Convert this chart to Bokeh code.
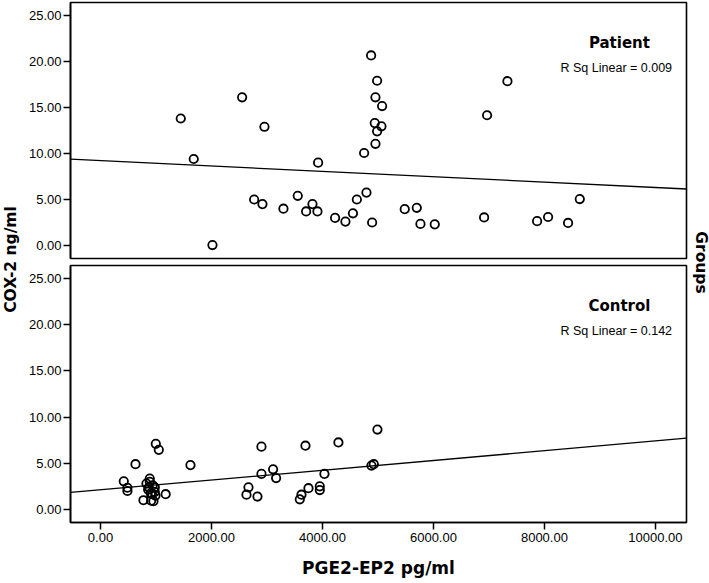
import numpy as np
from bokeh.plotting import figure
from bokeh.layouts import row, column
from bokeh.models import Range1d, FixedTicker, PrintfTickFormatter, Label
from bokeh.embed import file_html
from bokeh.resources import INLINE

# ---- data ----
patient_x = [1447, 1681, 2553, 2018, 2955, 2769, 2919, 3297, 3555, 3706, 3820, 3910, 3922,
             4228, 4414, 4550, 4620, 4751, 4793, 4877, 4895, 4985, 4955, 5075, 4943, 5063,
             4985, 4955, 5483, 5700, 5766, 6024, 6913, 6967, 7333, 7868, 8066, 8426, 8637]
patient_y = [13.8, 9.4, 16.1, 0.05, 12.9, 5.0, 4.5, 4.0, 5.4, 3.7, 4.5, 3.7, 9.0,
             3.0, 2.6, 3.5, 5.0, 10.05, 5.75, 20.65, 2.5, 17.9, 16.1, 15.15, 13.3, 12.95,
             12.4, 11.05, 3.95, 4.1, 2.35, 2.3, 3.05, 14.15, 17.85, 2.65, 3.1, 2.45, 5.05]
control_x = [420, 486, 486, 631, 775, 829, 871, 859, 888, 888, 907, 913, 931, 942, 955,
             979, 979, 991, 997, 1051, 1175, 1622, 2631, 2667, 2829, 2901, 2901, 3111, 3165,
             3592, 3622, 3694, 3748, 3952, 3952, 4036, 4288, 4883, 4925, 4991]
control_y = [3.05, 2.35, 2.0, 4.9, 1.0, 2.8, 2.4, 2.15, 3.35, 3.0, 1.75, 0.95, 1.65, 2.6, 0.9,
             2.4, 1.9, 1.5, 7.1, 6.45, 1.65, 4.8, 1.6, 2.4, 1.4, 6.8, 3.85, 4.35, 3.4,
             1.1, 1.6, 6.9, 2.3, 2.5, 2.1, 3.85, 7.25, 4.75, 4.9, 8.65]
group_names = ["Patient", "Control"]
r_sq_values = ["0.009", "0.142"]
y_ticks = [0, 5, 10, 15, 20, 25]
x_ticks = [0, 2000, 4000, 6000, 8000, 10000]
x_title = "PGE2-EP2 pg/ml"
y_title = "COX-2 ng/ml"
panel_title = "Groups"

X0, X1 = -540, 10560
Y0, Y1 = -1.41, 26.4
TICK_FONT = "Liberation Sans"
BOLD_FONT = "DejaVu Sans"
TOTAL_H = 583


def panel(xs, ys, name, rsq, height, with_x_axis, top_border, bottom_border):
    p = figure(width=668, height=height, x_range=Range1d(X0, X1), y_range=Range1d(Y0, Y1),
               output_backend="svg", toolbar_location=None,
               x_axis_location="below" if with_x_axis else None,
               min_border_left=48, min_border_right=4,
               min_border_top=top_border, min_border_bottom=bottom_border)
    p.grid.visible = False
    p.outline_line_color = "black"
    p.outline_line_width = 1.6
    p.background_fill_color = "white"
    p.border_fill_color = "white"
    for ax in p.yaxis:
        ax.ticker = FixedTicker(ticks=y_ticks)
    axes = list(p.yaxis) + (list(p.xaxis) if with_x_axis else [])
    for ax in axes:
        ax.formatter = PrintfTickFormatter(format="%.2f")
        ax.axis_line_color = "black"
        ax.axis_line_width = 1.6
        ax.major_tick_line_color = "black"
        ax.major_tick_line_width = 1.5
        ax.major_tick_in = 0
        ax.major_tick_out = 7
        ax.minor_tick_line_color = None
        ax.major_label_text_font = TICK_FONT
        ax.major_label_text_font_size = "13px"
        ax.major_label_text_color = "black"
    for ax in p.yaxis:
        ax.major_label_standoff = 2
    if with_x_axis:
        for ax in p.xaxis:
            ax.ticker = FixedTicker(ticks=x_ticks)
            ax.major_label_standoff = 3
            ax.axis_label = x_title
            ax.axis_label_text_font = BOLD_FONT
            ax.axis_label_text_font_style = "bold"
            ax.axis_label_text_font_size = "17px"
            ax.axis_label_text_color = "black"
            ax.axis_label_standoff = 13
    p.scatter(xs, ys, marker="circle", size=8.4, fill_color=None,
              line_color="black", line_width=1.8)
    slope, intercept = np.polyfit(np.array(xs, float), np.array(ys, float), 1)
    lx = np.array([X0, X1], float)
    p.line(lx, intercept + slope * lx, line_color="black", line_width=1.3)
    p.add_layout(Label(x=9351, y=22.0, text=name, text_align="center",
                       text_baseline="alphabetic", text_font=BOLD_FONT,
                       text_font_style="bold", text_font_size="15px", text_color="black"))
    p.add_layout(Label(x=10300, y=19.3, text="R Sq Linear = " + rsq, text_align="right",
                       text_baseline="alphabetic", text_font=TICK_FONT,
                       text_font_size="12.5px", text_color="black"))
    return p


top = panel(patient_x, patient_y, group_names[0], r_sq_values[0], 262, False, 2, 4)
bottom = panel(control_x, control_y, group_names[1], r_sq_values[1], 321, True, 3, 61)


def side(width, text, angle, xfrac, yfrac):
    f = figure(width=width, height=TOTAL_H, x_range=Range1d(0, 1), y_range=Range1d(0, 1),
               output_backend="svg", toolbar_location=None,
               x_axis_location=None, y_axis_location=None, min_border=0)
    f.grid.visible = False
    f.outline_line_color = None
    f.background_fill_color = "white"
    f.border_fill_color = "white"
    f.add_layout(Label(x=xfrac, y=yfrac, text=text, angle=angle, text_align="center",
                       text_baseline="middle", text_font=BOLD_FONT, text_font_style="bold",
                       text_font_size="15.5px", text_color="black"))
    return f


left = side(22, y_title, np.pi / 2, 10 / 22, 1 - 259 / TOTAL_H)
right = side(19, panel_title, -np.pi / 2, 10 / 19, 1 - 262 / TOTAL_H)

layout = row(left, column(top, bottom), right)
open("out.html", "w").write(file_html(layout, INLINE))
